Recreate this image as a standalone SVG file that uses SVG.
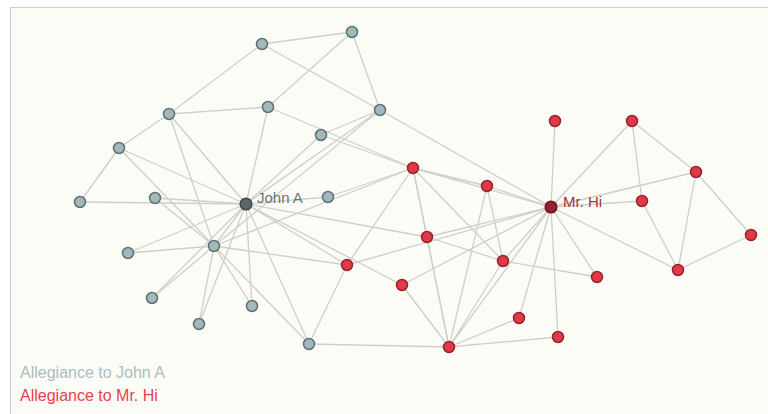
<svg xmlns="http://www.w3.org/2000/svg" width="768" height="414" viewBox="0 0 768 414">
<style>
.e{stroke:#cfcfca;stroke-width:1.3;fill:none}
.j{fill:#a3b8bb;stroke:#5d7275;stroke-width:1.5}
.h{fill:#e03a48;stroke:#97232e;stroke-width:1.5}
.lbl{font-family:"Liberation Sans",Arial,sans-serif;font-size:15px}
.leg{font-family:"Liberation Sans",Arial,sans-serif;font-size:16px}
</style>
<rect x="0" y="0" width="768" height="414" fill="#ffffff"/>
<rect x="10.5" y="7.5" width="800" height="500" fill="#fcfcf6" stroke="#cfcfcf" stroke-width="1"/>
<g id="edges">
<line class="e" x1="551" y1="207" x2="449" y2="347"/>
<line class="e" x1="551" y1="207" x2="413" y2="168"/>
<line class="e" x1="551" y1="207" x2="503" y2="261"/>
<line class="e" x1="551" y1="207" x2="642" y2="201"/>
<line class="e" x1="551" y1="207" x2="696" y2="172"/>
<line class="e" x1="551" y1="207" x2="678" y2="270"/>
<line class="e" x1="551" y1="207" x2="487" y2="186"/>
<line class="e" x1="551" y1="207" x2="347" y2="265"/>
<line class="e" x1="551" y1="207" x2="632" y2="121"/>
<line class="e" x1="551" y1="207" x2="555" y2="121"/>
<line class="e" x1="551" y1="207" x2="597" y2="277"/>
<line class="e" x1="551" y1="207" x2="427" y2="237"/>
<line class="e" x1="551" y1="207" x2="519" y2="318"/>
<line class="e" x1="551" y1="207" x2="402" y2="285"/>
<line class="e" x1="551" y1="207" x2="558" y2="337"/>
<line class="e" x1="551" y1="207" x2="380" y2="110"/>
<line class="e" x1="449" y1="347" x2="413" y2="168"/>
<line class="e" x1="449" y1="347" x2="503" y2="261"/>
<line class="e" x1="449" y1="347" x2="487" y2="186"/>
<line class="e" x1="449" y1="347" x2="427" y2="237"/>
<line class="e" x1="449" y1="347" x2="519" y2="318"/>
<line class="e" x1="449" y1="347" x2="402" y2="285"/>
<line class="e" x1="449" y1="347" x2="558" y2="337"/>
<line class="e" x1="449" y1="347" x2="309" y2="344"/>
<line class="e" x1="413" y1="168" x2="503" y2="261"/>
<line class="e" x1="413" y1="168" x2="487" y2="186"/>
<line class="e" x1="413" y1="168" x2="347" y2="265"/>
<line class="e" x1="413" y1="168" x2="328" y2="197"/>
<line class="e" x1="413" y1="168" x2="427" y2="237"/>
<line class="e" x1="413" y1="168" x2="268" y2="107"/>
<line class="e" x1="413" y1="168" x2="321" y2="135"/>
<line class="e" x1="413" y1="168" x2="214" y2="246"/>
<line class="e" x1="503" y1="261" x2="487" y2="186"/>
<line class="e" x1="503" y1="261" x2="597" y2="277"/>
<line class="e" x1="503" y1="261" x2="427" y2="237"/>
<line class="e" x1="642" y1="201" x2="678" y2="270"/>
<line class="e" x1="642" y1="201" x2="632" y2="121"/>
<line class="e" x1="696" y1="172" x2="678" y2="270"/>
<line class="e" x1="696" y1="172" x2="632" y2="121"/>
<line class="e" x1="696" y1="172" x2="751" y2="235"/>
<line class="e" x1="678" y1="270" x2="751" y2="235"/>
<line class="e" x1="347" y1="265" x2="309" y2="344"/>
<line class="e" x1="347" y1="265" x2="214" y2="246"/>
<line class="e" x1="347" y1="265" x2="246" y2="204"/>
<line class="e" x1="328" y1="197" x2="246" y2="204"/>
<line class="e" x1="427" y1="237" x2="246" y2="204"/>
<line class="e" x1="155" y1="198" x2="214" y2="246"/>
<line class="e" x1="155" y1="198" x2="246" y2="204"/>
<line class="e" x1="128" y1="253" x2="214" y2="246"/>
<line class="e" x1="128" y1="253" x2="246" y2="204"/>
<line class="e" x1="152" y1="298" x2="214" y2="246"/>
<line class="e" x1="152" y1="298" x2="246" y2="204"/>
<line class="e" x1="402" y1="285" x2="246" y2="204"/>
<line class="e" x1="252" y1="306" x2="214" y2="246"/>
<line class="e" x1="252" y1="306" x2="246" y2="204"/>
<line class="e" x1="199" y1="324" x2="214" y2="246"/>
<line class="e" x1="199" y1="324" x2="246" y2="204"/>
<line class="e" x1="169" y1="114" x2="262" y2="44"/>
<line class="e" x1="169" y1="114" x2="268" y2="107"/>
<line class="e" x1="169" y1="114" x2="119" y2="148"/>
<line class="e" x1="169" y1="114" x2="214" y2="246"/>
<line class="e" x1="169" y1="114" x2="246" y2="204"/>
<line class="e" x1="352" y1="32" x2="262" y2="44"/>
<line class="e" x1="352" y1="32" x2="268" y2="107"/>
<line class="e" x1="352" y1="32" x2="380" y2="110"/>
<line class="e" x1="262" y1="44" x2="380" y2="110"/>
<line class="e" x1="80" y1="202" x2="119" y2="148"/>
<line class="e" x1="80" y1="202" x2="246" y2="204"/>
<line class="e" x1="268" y1="107" x2="246" y2="204"/>
<line class="e" x1="321" y1="135" x2="380" y2="110"/>
<line class="e" x1="321" y1="135" x2="246" y2="204"/>
<line class="e" x1="119" y1="148" x2="214" y2="246"/>
<line class="e" x1="119" y1="148" x2="246" y2="204"/>
<line class="e" x1="309" y1="344" x2="214" y2="246"/>
<line class="e" x1="309" y1="344" x2="246" y2="204"/>
<line class="e" x1="380" y1="110" x2="214" y2="246"/>
<line class="e" x1="380" y1="110" x2="246" y2="204"/>
<line class="e" x1="214" y1="246" x2="246" y2="204"/>
</g>
<g id="n1"><circle cx="551" cy="207" r="5.8" fill="#9b1f2c" stroke="#6a1520" stroke-width="1.5"/><text class="lbl" x="563" y="207" fill="#a8323e">Mr. Hi</text></g>
<g id="n2"><circle class="h" cx="449" cy="347" r="5.5"/></g>
<g id="n3"><circle class="h" cx="413" cy="168" r="5.5"/></g>
<g id="n4"><circle class="h" cx="503" cy="261" r="5.5"/></g>
<g id="n5"><circle class="h" cx="642" cy="201" r="5.5"/></g>
<g id="n6"><circle class="h" cx="696" cy="172" r="5.5"/></g>
<g id="n7"><circle class="h" cx="678" cy="270" r="5.5"/></g>
<g id="n8"><circle class="h" cx="487" cy="186" r="5.5"/></g>
<g id="n9"><circle class="h" cx="347" cy="265" r="5.5"/></g>
<g id="n10"><circle class="j" cx="328" cy="197" r="5.5"/></g>
<g id="n11"><circle class="h" cx="632" cy="121" r="5.5"/></g>
<g id="n12"><circle class="h" cx="555" cy="121" r="5.5"/></g>
<g id="n13"><circle class="h" cx="597" cy="277" r="5.5"/></g>
<g id="n14"><circle class="h" cx="427" cy="237" r="5.5"/></g>
<g id="n15"><circle class="j" cx="155" cy="198" r="5.5"/></g>
<g id="n16"><circle class="j" cx="128" cy="253" r="5.5"/></g>
<g id="n17"><circle class="h" cx="751" cy="235" r="5.5"/></g>
<g id="n18"><circle class="h" cx="519" cy="318" r="5.5"/></g>
<g id="n19"><circle class="j" cx="152" cy="298" r="5.5"/></g>
<g id="n20"><circle class="h" cx="402" cy="285" r="5.5"/></g>
<g id="n21"><circle class="j" cx="252" cy="306" r="5.5"/></g>
<g id="n22"><circle class="h" cx="558" cy="337" r="5.5"/></g>
<g id="n23"><circle class="j" cx="199" cy="324" r="5.5"/></g>
<g id="n24"><circle class="j" cx="169" cy="114" r="5.5"/></g>
<g id="n25"><circle class="j" cx="352" cy="32" r="5.5"/></g>
<g id="n26"><circle class="j" cx="262" cy="44" r="5.5"/></g>
<g id="n27"><circle class="j" cx="80" cy="202" r="5.5"/></g>
<g id="n28"><circle class="j" cx="268" cy="107" r="5.5"/></g>
<g id="n29"><circle class="j" cx="321" cy="135" r="5.5"/></g>
<g id="n30"><circle class="j" cx="119" cy="148" r="5.5"/></g>
<g id="n31"><circle class="j" cx="309" cy="344" r="5.5"/></g>
<g id="n32"><circle class="j" cx="380" cy="110" r="5.5"/></g>
<g id="n33"><circle class="j" cx="214" cy="246" r="5.5"/></g>
<g id="n34"><circle cx="246" cy="204" r="5.8" fill="#5e6566" stroke="#404848" stroke-width="1.5"/><text class="lbl" x="257" y="203" fill="#6b7475">John A</text></g>
<g id="legend">
<text class="leg" x="20" y="378" fill="#a9bec1">Allegiance to John A</text>
<text class="leg" x="20" y="401" fill="#e8414e">Allegiance to Mr. Hi</text>
</g>
</svg>
